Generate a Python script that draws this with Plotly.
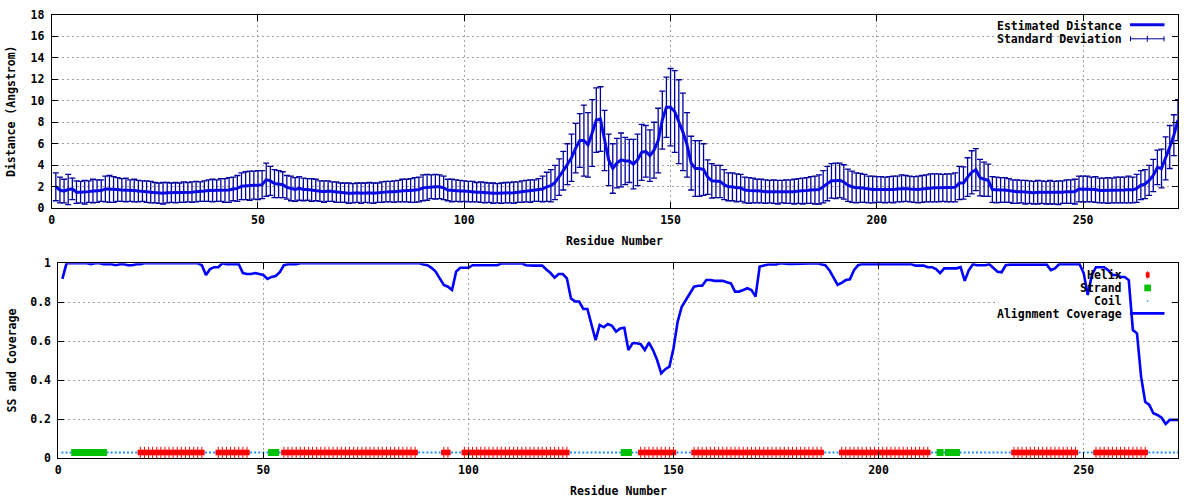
import plotly.graph_objects as go

# ---------------- data ----------------
residues = list(range(1, 274))

distance = [
    2.0, 1.7, 1.6, 1.75, 1.8, 1.5, 1.5, 1.5, 1.55, 1.6,
    1.6, 1.65, 1.8, 1.8, 1.75, 1.75, 1.7, 1.7, 1.65, 1.65,
    1.6, 1.6, 1.55, 1.5, 1.45, 1.4, 1.4, 1.45, 1.45, 1.45,
    1.45, 1.5, 1.5, 1.5, 1.55, 1.55, 1.6, 1.65, 1.65, 1.65,
    1.7, 1.65, 1.7, 1.8, 1.85, 2.05, 2.1, 2.1, 2.15, 2.15,
    2.2, 2.65, 2.55, 2.3, 2.25, 2.2, 1.95, 1.85, 1.75, 1.85,
    1.75, 1.75, 1.7, 1.7, 1.6, 1.55, 1.6, 1.55, 1.5, 1.45,
    1.45, 1.4, 1.4, 1.45, 1.4, 1.45, 1.45, 1.4, 1.45, 1.5,
    1.55, 1.55, 1.55, 1.6, 1.65, 1.65, 1.65, 1.7, 1.75, 1.9,
    1.95, 2.0, 2.0, 2.0, 1.9, 1.7, 1.65, 1.65, 1.6, 1.6,
    1.55, 1.55, 1.5, 1.5, 1.45, 1.45, 1.4, 1.4, 1.4, 1.45,
    1.45, 1.45, 1.5, 1.55, 1.6, 1.6, 1.65, 1.7, 1.8, 2.0,
    2.1, 2.4, 2.9, 3.5, 4.1, 4.7, 5.6, 6.3, 6.3, 5.9,
    7.0, 8.2, 8.3, 6.3, 4.5, 3.7, 4.2, 4.5, 4.4, 4.4,
    4.1, 4.5, 5.2, 5.3, 4.9, 5.4, 6.3, 8.2, 9.4, 9.4,
    9.0, 8.05, 7.1, 5.9, 4.2, 3.7, 3.7, 3.6, 2.9, 2.55,
    2.5, 2.5, 2.2, 2.0, 2.0, 1.9, 1.9, 1.7, 1.65, 1.65,
    1.6, 1.6, 1.55, 1.55, 1.55, 1.5, 1.55, 1.55, 1.55, 1.55,
    1.6, 1.6, 1.65, 1.7, 1.7, 1.75, 2.0, 2.3, 2.55, 2.55,
    2.6, 2.45, 2.15, 2.0, 1.9, 1.9, 1.85, 1.75, 1.75, 1.75,
    1.75, 1.7, 1.75, 1.75, 1.8, 1.85, 1.85, 1.8, 1.75, 1.75,
    1.8, 1.85, 1.9, 1.9, 1.9, 1.9, 1.9, 1.9, 1.95, 2.35,
    2.35, 2.9, 3.35, 3.6, 2.85, 2.7, 2.6, 1.75, 1.7, 1.7,
    1.7, 1.65, 1.55, 1.55, 1.55, 1.5, 1.5, 1.45, 1.5, 1.5,
    1.45, 1.5, 1.45, 1.45, 1.5, 1.55, 1.55, 1.55, 1.8, 1.8,
    1.8, 1.75, 1.75, 1.65, 1.65, 1.65, 1.65, 1.7, 1.7, 1.7,
    1.75, 1.7, 1.85, 2.15, 2.25, 2.6, 3.05, 3.8, 3.7, 4.65,
    5.7, 6.8, 8.2,
]

std_dev = [
    1.3, 1.2, 1.1, 1.4, 1.0, 1.05, 1.0, 1.1, 1.0, 1.1,
    1.05, 1.0, 1.2, 1.25, 1.2, 1.1, 1.05, 1.1, 1.0, 1.05,
    1.0, 0.95, 1.0, 1.0, 0.95, 0.95, 1.0, 0.95, 0.9, 0.95,
    0.9, 0.95, 0.9, 0.95, 0.95, 0.9, 0.95, 1.0, 1.05, 1.0,
    1.05, 1.1, 1.15, 1.1, 1.2, 1.25, 1.3, 1.35, 1.3, 1.35,
    1.3, 1.55, 1.35, 1.3, 1.25, 1.2, 1.1, 1.15, 1.1, 1.1,
    1.05, 1.0, 1.05, 1.0, 0.95, 1.0, 0.95, 0.9, 0.95, 0.9,
    0.9, 0.95, 0.9, 0.9, 0.95, 0.9, 0.95, 0.95, 0.9, 0.95,
    0.95, 0.95, 1.0, 1.0, 1.05, 1.05, 1.1, 1.15, 1.15, 1.2,
    1.2, 1.1, 1.15, 1.1, 1.1, 1.0, 1.05, 1.0, 1.0, 0.95,
    0.95, 0.95, 0.9, 0.95, 0.95, 0.9, 0.95, 0.9, 0.95, 0.95,
    0.95, 1.0, 0.95, 1.0, 1.0, 1.05, 1.0, 1.05, 1.2, 1.35,
    1.5, 1.6, 1.7, 1.8, 1.9, 2.2, 2.3, 2.5, 3.3, 3.0,
    3.1, 3.0, 3.0, 2.8, 2.4, 2.3, 2.3, 2.5, 2.2, 2.0,
    2.3, 2.4, 2.6, 2.4, 2.4, 2.6, 3.0, 2.7, 2.8, 3.6,
    3.8, 3.9, 3.6, 3.0, 2.5, 2.6, 2.6, 2.4, 1.6, 1.6,
    1.5, 1.5, 1.4, 1.3, 1.3, 1.3, 1.25, 1.2, 1.2, 1.15,
    1.1, 1.1, 1.1, 1.05, 1.1, 1.1, 1.05, 1.1, 1.1, 1.15,
    1.15, 1.2, 1.2, 1.25, 1.3, 1.35, 1.5, 1.6, 1.6, 1.65,
    1.6, 1.6, 1.5, 1.45, 1.4, 1.35, 1.3, 1.25, 1.25, 1.2,
    1.2, 1.2, 1.2, 1.25, 1.2, 1.25, 1.2, 1.2, 1.2, 1.25,
    1.25, 1.25, 1.3, 1.3, 1.3, 1.25, 1.3, 1.3, 1.35, 1.55,
    1.5, 1.8, 2.0, 1.95, 1.7, 1.6, 1.5, 1.2, 1.2, 1.15,
    1.15, 1.1, 1.1, 1.1, 1.05, 1.1, 1.05, 1.05, 1.1, 1.05,
    1.05, 1.1, 1.05, 1.1, 1.05, 1.1, 1.1, 1.15, 1.2, 1.2,
    1.2, 1.15, 1.2, 1.15, 1.15, 1.2, 1.15, 1.2, 1.2, 1.2,
    1.25, 1.2, 1.3, 1.35, 1.35, 1.4, 1.5, 1.6, 1.8, 2.0,
    2.0, 1.9, 1.9,
]

coverage = [
    0.92, 1.0, 1.0, 1.0, 1.0, 1.0, 1.0, 0.995, 1.0, 1.0,
    0.995, 0.995, 0.995, 0.99, 0.995, 0.995, 0.99, 0.99, 0.995, 0.995,
    1.0, 1.0, 1.0, 1.0, 1.0, 1.0, 1.0, 1.0, 1.0, 1.0,
    1.0, 1.0, 1.0, 1.0, 0.99, 0.94, 0.97, 0.98, 0.98, 1.0,
    0.995, 0.995, 0.995, 0.995, 0.95, 0.945, 0.945, 0.95, 0.945, 0.94,
    0.92, 0.93, 0.935, 0.955, 0.99, 0.995, 0.995, 0.995, 1.0, 1.0,
    1.0, 1.0, 1.0, 1.0, 1.0, 1.0, 1.0, 1.0, 1.0, 1.0,
    1.0, 1.0, 1.0, 1.0, 1.0, 1.0, 1.0, 1.0, 1.0, 1.0,
    1.0, 1.0, 1.0, 1.0, 1.0, 1.0, 1.0, 1.0, 0.994, 0.99,
    0.977, 0.957, 0.923, 0.889, 0.88, 0.863, 0.957, 0.977, 0.977, 0.977,
    0.99, 0.99, 0.99, 0.99, 0.99, 0.99, 0.99, 0.999, 0.999, 0.999,
    0.999, 1.0, 1.0, 0.99, 0.988, 0.988, 0.988, 0.988, 0.968, 0.95,
    0.926, 0.945, 0.945, 0.923, 0.82, 0.804, 0.804, 0.766, 0.766, 0.684,
    0.606, 0.684, 0.672, 0.689, 0.68, 0.65, 0.666, 0.67, 0.555, 0.59,
    0.59, 0.585, 0.555, 0.593, 0.555, 0.504, 0.436, 0.457, 0.47, 0.564,
    0.7, 0.777, 0.812, 0.841, 0.88, 0.885, 0.885, 0.914, 0.914, 0.91,
    0.91, 0.91, 0.903, 0.897, 0.855, 0.855, 0.863, 0.872, 0.863, 0.829,
    0.983, 0.99, 0.994, 0.994, 0.994, 1.0, 0.997, 0.997, 0.997, 0.997,
    1.0, 1.0, 1.0, 1.0, 1.0, 0.995, 0.99, 0.965, 0.93, 0.89,
    0.9, 0.914, 0.918, 0.965, 0.99, 0.996, 0.996, 0.996, 0.996, 0.996,
    0.995, 0.995, 0.995, 0.995, 0.995, 0.995, 0.995, 0.995, 0.988, 0.988,
    0.988, 0.98, 0.98, 0.97, 0.95, 0.974, 0.974, 0.974, 0.974, 0.98,
    0.91, 0.965, 0.995, 0.99, 0.99, 0.99, 0.995, 0.975, 0.957, 0.954,
    0.99, 0.993, 0.993, 0.993, 0.993, 0.993, 0.993, 0.993, 0.993, 0.993,
    0.993, 0.965, 0.974, 0.995, 0.995, 0.995, 0.995, 0.995, 0.995, 0.95,
    0.838, 0.94, 0.98, 0.98, 0.98, 0.965, 0.94, 0.94, 0.93, 0.93,
    0.914, 0.658, 0.641, 0.419, 0.29, 0.274, 0.231, 0.222, 0.208, 0.176,
    0.197, 0.197, 0.197,
]

# secondary structure: (type, first residue, last residue)
ss_segments = [
    ("C", 1, 3), ("E", 4, 11), ("C", 12, 19), ("H", 20, 35), ("C", 36, 38),
    ("H", 39, 46), ("C", 47, 51), ("E", 52, 53), ("C", 54, 54), ("H", 55, 87),
    ("C", 88, 93), ("H", 94, 95), ("C", 96, 98), ("H", 99, 124), ("C", 125, 137),
    ("E", 138, 139), ("C", 140, 141), ("H", 142, 150), ("C", 151, 154),
    ("H", 155, 186), ("C", 187, 190), ("H", 191, 212), ("C", 213, 214),
    ("E", 215, 215), ("C", 216, 216), ("E", 217, 219), ("C", 220, 232),
    ("H", 233, 248), ("C", 249, 252), ("H", 253, 265), ("C", 266, 273),
]
ss_level = 0.03

x_ticks = [0, 50, 100, 150, 200, 250]
y1_ticks = [0, 2, 4, 6, 8, 10, 12, 14, 16, 18]
y2_ticks = [0, 0.2, 0.4, 0.6, 0.8, 1]
y2_ticklabels = ["0", "0.2", "0.4", "0.6", "0.8", "1"]

# ---------------- geometry helpers ----------------
W, H = 1200, 500
FONT = "DejaVu Sans Mono"
FS = 11.5


def pxx(v):
    return v / W


def pxy(v):
    return 1 - v / H


ss_type = {}
for t, a, b in ss_segments:
    for r in range(a, b + 1):
        ss_type[r] = t
helix_x = [r for r in residues if ss_type[r] == "H"]
strand_x = [r for r in residues if ss_type[r] == "E"]
coil_x = [r for r in residues if ss_type[r] == "C"]

LINE_BLUE = "#0000ff"
DIST_BLUE = "#0a0ae6"
ERR_BLUE = "#00009c"
RED = "#ff0000"
GREEN = "#00c000"
COIL = "#1e90ff"

fig = go.Figure()

# top panel
fig.add_trace(go.Scatter(
    x=residues, y=distance, mode="markers",
    marker=dict(size=1, color=ERR_BLUE),
    error_y=dict(type="data", array=std_dev, visible=True,
                 color=ERR_BLUE, thickness=1.3, width=3),
    name="Standard Deviation", xaxis="x", yaxis="y", hoverinfo="skip"))
fig.add_trace(go.Scatter(
    x=residues, y=distance, mode="lines",
    line=dict(color=DIST_BLUE, width=3),
    name="Estimated Distance", xaxis="x", yaxis="y"))

# bottom panel
fig.add_trace(go.Scatter(
    x=coil_x, y=[ss_level] * len(coil_x), mode="markers",
    marker=dict(symbol="square", size=2, color=COIL, line=dict(width=0)),
    name="Coil", xaxis="x2", yaxis="y2"))
fig.add_trace(go.Scatter(
    x=strand_x, y=[ss_level] * len(strand_x), mode="markers",
    marker=dict(symbol="square", size=7, color=GREEN, line=dict(width=0)),
    name="Strand", xaxis="x2", yaxis="y2"))
fig.add_trace(go.Scatter(
    x=helix_x, y=[ss_level] * len(helix_x), mode="markers",
    marker=dict(symbol="square", size=5.5, color=RED, line=dict(width=0)),
    name="Helix", xaxis="x2", yaxis="y2"))
fig.add_trace(go.Scatter(
    x=helix_x, y=[ss_level] * len(helix_x), mode="markers",
    marker=dict(symbol="line-ns-open", size=8, color=RED,
                line=dict(width=1, color=RED)),
    showlegend=False, xaxis="x2", yaxis="y2"))
fig.add_trace(go.Scatter(
    x=residues, y=coverage, mode="lines",
    line=dict(color=LINE_BLUE, width=2.6),
    name="Alignment Coverage", xaxis="x2", yaxis="y2", cliponaxis=False))

axis_common = dict(
    automargin=False, ticklabeloverflow="allow",
    showline=True, linecolor="black", linewidth=1, mirror="allticks",
    ticks="inside", ticklen=6, tickcolor="black", tickwidth=1,
    showgrid=True, gridcolor="#a0a0a0", gridwidth=1, griddash="2px,3px",
    zeroline=False, tickfont=dict(family=FONT, size=FS, color="black", weight="bold"),
)

fig.update_layout(
    width=W, height=H,
    margin=dict(l=0, r=0, t=0, b=0, pad=0, autoexpand=False),
    paper_bgcolor="white", plot_bgcolor="white",
    showlegend=False,
    font=dict(family=FONT, size=FS, color="black", weight="bold"),
    xaxis=dict(domain=[pxx(51.7), pxx(1178)], range=[0, 273], tickvals=x_ticks,
               anchor="y", ticklabelstandoff=1, **axis_common),
    yaxis=dict(domain=[pxy(208.3), pxy(14.7)], range=[0, 18], tickvals=y1_ticks,
               anchor="x", ticklabelstandoff=4, **axis_common),
    xaxis2=dict(domain=[pxx(58.3), pxx(1178)], range=[0, 273], tickvals=x_ticks,
                anchor="y2", ticklabelstandoff=1, **axis_common),
    yaxis2=dict(domain=[pxy(458.3), pxy(263.3)], range=[0, 1], tickvals=y2_ticks,
                ticktext=y2_ticklabels, anchor="x2", ticklabelstandoff=4, **axis_common),
)

# gnuplot leaves the key region free of grid lines
fig.add_shape(type="rect", xref="x", yref="y", x0=249.6, x1=272.9, y0=15.2, y1=17.7,
              fillcolor="white", line=dict(width=0), layer="between")
fig.add_shape(type="rect", xref="x2", yref="y2", x0=229.2, x1=272.9, y0=0.72, y1=0.996,
              fillcolor="white", line=dict(width=0), layer="between")

# axis titles
ann = [
    dict(text="Distance (Angstrom)", x=pxx(11.5), y=pxy(111.5), textangle=-90),
    dict(text="Residue Number", x=pxx(614.9), y=pxy(241)),
    dict(text="SS and Coverage", x=pxx(11.5), y=pxy(361), textangle=-90),
    dict(text="Residue Number", x=pxx(618), y=pxy(491)),
]
for a in ann:
    fig.add_annotation(xref="paper", yref="paper", showarrow=False,
                       xanchor="center", yanchor="middle", **a)

# key (gnuplot style: text right-aligned, sample to the right)
key_rows = [
    ("Estimated Distance", 25.5), ("Standard Deviation", 39.3),
    ("Helix", 274.7), ("Strand", 288.0), ("Coil", 301.3), ("Alignment Coverage", 313.7),
]
for label, yy in key_rows:
    fig.add_annotation(xref="paper", yref="paper", showarrow=False, text=label,
                       x=pxx(1123.5), y=pxy(yy), xanchor="right", yanchor="middle")


def pline(x0, y0, x1, y1, color, width):
    fig.add_shape(type="line", xref="paper", yref="paper",
                  x0=pxx(x0), y0=pxy(y0), x1=pxx(x1), y1=pxy(y1),
                  line=dict(color=color, width=width), layer="above")


def prect(x0, y0, x1, y1, color):
    fig.add_shape(type="rect", xref="paper", yref="paper",
                  x0=pxx(x0), y0=pxy(y0), x1=pxx(x1), y1=pxy(y1),
                  fillcolor=color, line=dict(width=0), layer="above")


pline(1130, 24.8, 1164.5, 24.8, DIST_BLUE, 3)
pline(1130, 38.8, 1164.5, 38.8, ERR_BLUE, 1)
pline(1130.5, 36.3, 1130.5, 41.3, ERR_BLUE, 1)
pline(1164, 36.3, 1164, 41.3, ERR_BLUE, 1)
pline(1147.3, 35.8, 1147.3, 41.8, ERR_BLUE, 1)

prect(1145.8, 272.3, 1149.6, 277.6, RED)
pline(1147.7, 271.2, 1147.7, 278.6, RED, 1)
prect(1144.3, 284.6, 1151.0, 291.3, GREEN)
prect(1146.8, 300.4, 1148.2, 301.8, COIL)
pline(1130, 313.4, 1164.5, 313.4, LINE_BLUE, 2.6)

# remove the browser's default 8px body margin so the 1200x500 figure fills the window
fig.write_html("out.html",
               config={"displayModeBar": False},
               post_script="document.body.style.margin='0';"
                           "document.body.style.overflow='hidden';")
